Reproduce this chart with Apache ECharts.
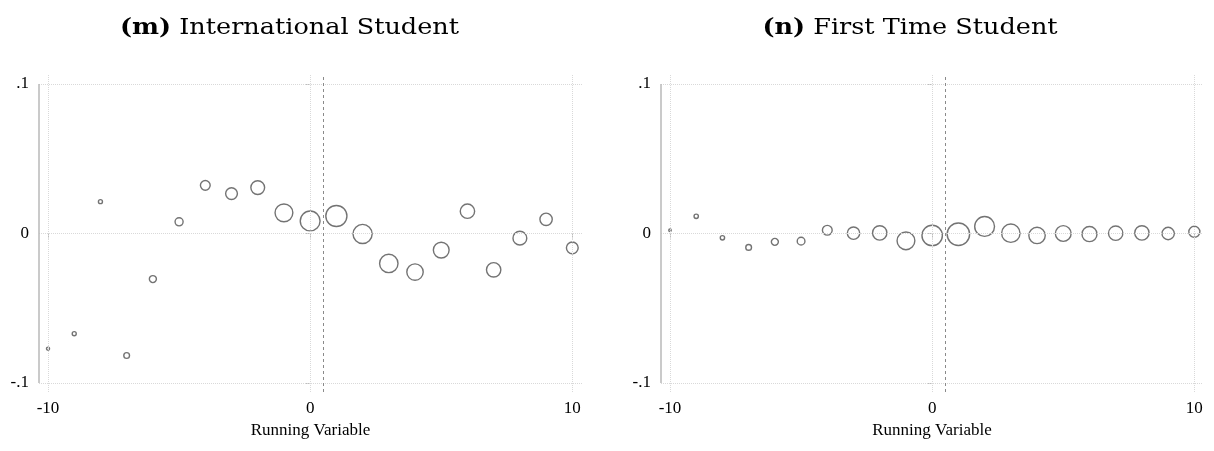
<!DOCTYPE html>
<html>
<head>
<meta charset="utf-8">
<script src="https://cdn.jsdelivr.net/npm/echarts@6/dist/echarts.min.js"></script>
<style>
  html, body { margin: 0; padding: 0; background: #ffffff; }
  #chart { width: 1214px; height: 451px; }
</style>
</head>
<body>
<div id="chart"></div>
<script>
// Running-variable bins shared by both panels
const bins = [-10, -9, -8, -7, -6, -5, -4, -3, -2, -1, 0, 1, 2, 3, 4, 5, 6, 7, 8, 9, 10];

// (m) International Student: binned means and observations per bin
const intlMeans = [-0.077, -0.067, 0.0213, -0.0816, -0.0305, 0.0078, 0.0322, 0.0267, 0.0307, 0.0138, 0.0084,
                   0.0117, -0.0003, -0.0200, -0.0258, -0.0111, 0.0149, -0.0243, -0.0031, 0.0095, -0.0096];
const intlObs = [90, 160, 160, 325, 490, 640, 940, 1370, 1880, 3130, 3880,
                 4410, 3610, 3350, 2660, 2460, 2040, 2040, 1880, 1510, 1370];

// (n) First Time Student: binned means and observations per bin
const firstMeans = [0.0022, 0.0115, -0.0029, -0.0093, -0.0056, -0.0051, 0.0022, 0.0002, 0.0004, -0.0049, -0.0013,
                    -0.0005, 0.0047, 0.0002, -0.0013, 0.0000, -0.0004, 0.0002, 0.0004, 0.0000, 0.0011];
const firstObs = [60, 185, 185, 325, 490, 590, 940, 1510, 2040, 3130, 4120,
                  4970, 3880, 3350, 2660, 2460, 2250, 2040, 2040, 1510, 1210];

// Axis ticks and labels
const xTickValues = [-10, 0, 10];
const yTickValues = [-0.1, 0, 0.1];
const yTickLabels = ['-.1', '0', '.1'];
const cutoff = 0.5;

const panelTitles = [
  { tag: '(m)', text: ' International Student' },
  { tag: '(n)', text: ' First Time Student' }
];
const xAxisTitle = 'Running Variable';

// ---- styling / layout ----
const serif = '"Liberation Serif", "Times New Roman", serif';
const titleFont = '"DejaVu Serif", serif';
const gridColor = '#d9d9d9';
const axisGrey = '#bdbdbd';
const markerStroke = '#505050';
const sizeK = 0.318;           // marker diameter per sqrt(obs)

const panels = [
  { left: 39, width: 543, xMin: -10.344, xMax: 10.37, means: intlMeans, obs: intlObs, titleX: 289.5 },
  { left: 661, width: 542, xMin: -10.343, xMax: 10.33, means: firstMeans, obs: firstObs, titleX: 910 }
];
const yMin = -0.106, yMax = 0.106;
const gridTop = 75, gridHeight = 317;

const grids = [], xAxes = [], yAxes = [], series = [], graphics = [];

panels.forEach((p, i) => {
  grids.push({ left: p.left, top: gridTop, width: p.width, height: gridHeight, containLabel: false });

  xAxes.push({
    type: 'value', gridIndex: i, min: p.xMin, max: p.xMax,
    axisLine: { show: false },
    splitLine: { show: false },
    axisTick: { show: true, customValues: xTickValues, length: 5, lineStyle: { color: axisGrey, width: 1 } },
    axisLabel: {
      customValues: xTickValues, margin: 8,
      color: '#000', fontFamily: serif, fontSize: 17,
      formatter: v => String(v)
    },
    name: xAxisTitle, nameLocation: 'middle', nameGap: 21,
    nameTextStyle: { color: '#000', fontFamily: serif, fontSize: 17 }
  });

  yAxes.push({
    type: 'value', gridIndex: i, min: yMin, max: yMax,
    axisLine: { show: false },
    splitLine: { show: false },
    axisTick: { show: true, customValues: yTickValues, length: 5, lineStyle: { color: axisGrey, width: 1 } },
    axisLabel: {
      customValues: yTickValues, margin: 10,
      color: '#000', fontFamily: serif, fontSize: 17,
      formatter: v => {
        const k = yTickValues.findIndex(t => Math.abs(t - v) < 1e-9);
        return k >= 0 ? yTickLabels[k] : '';
      }
    }
  });

  const gridStyle = { color: gridColor, type: 'dotted', width: 1 };
  const lines = [];
  yTickValues.forEach(v => lines.push({ yAxis: v, lineStyle: gridStyle }));
  xTickValues.forEach(v => lines.push({ xAxis: v, lineStyle: gridStyle }));
  lines.push({ xAxis: cutoff, lineStyle: { color: '#8a8a8a', type: [3, 3], width: 1 } });
  // vertical axis line spanning the labelled range only
  lines.push([
    { coord: [p.xMin, yTickValues[0]], lineStyle: { color: axisGrey, type: 'solid', width: 1.6 } },
    { coord: [p.xMin, yTickValues[yTickValues.length - 1]] }
  ]);

  series.push({
    type: 'scatter', xAxisIndex: i, yAxisIndex: i,
    data: bins.map((b, k) => [b, p.means[k], p.obs[k]]),
    symbol: 'circle',
    symbolSize: val => Math.sqrt(val[2]) * sizeK,
    itemStyle: { color: 'rgba(0,0,0,0)', borderColor: markerStroke, borderWidth: 1.4 },
    emphasis: { disabled: true },
    silent: true,
    z: 3,
    markLine: {
      silent: true, symbol: ['none', 'none'], label: { show: false },
      animation: false, data: lines
    }
  });

  graphics.push({
    type: 'text', x: p.titleX, y: 28, scaleX: 1.16,
    style: {
      text: '{b|' + panelTitles[i].tag + '}{r|' + panelTitles[i].text + '}',
      align: 'center', verticalAlign: 'middle',
      rich: {
        b: { fontFamily: titleFont, fontSize: 22, fontWeight: 'bold', fill: '#000' },
        r: { fontFamily: titleFont, fontSize: 22, fill: '#000' }
      }
    }
  });
});

const chart = echarts.init(document.getElementById('chart'), null, { renderer: 'canvas' });
chart.setOption({
  animation: false,
  backgroundColor: '#ffffff',
  grid: grids,
  xAxis: xAxes,
  yAxis: yAxes,
  series: series,
  graphic: graphics
});
</script>
</body>
</html>
